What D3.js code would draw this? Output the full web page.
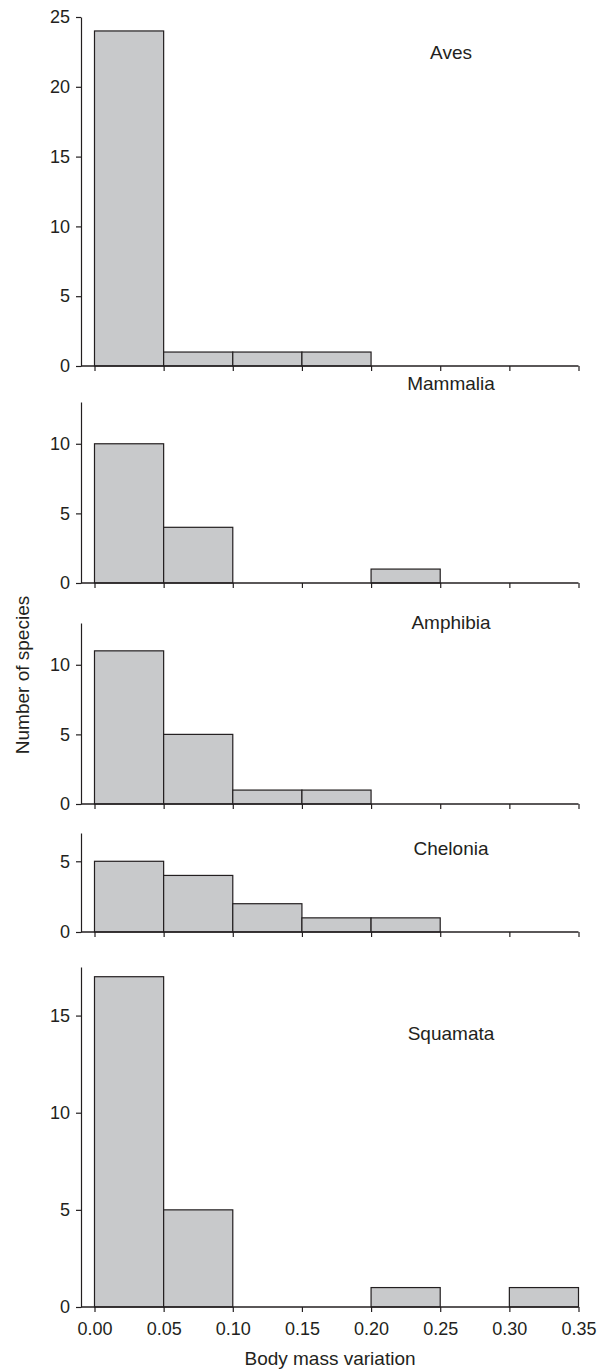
<!DOCTYPE html>
<html>
<head>
<meta charset="utf-8">
<script src="https://cdn.jsdelivr.net/npm/d3@7"></script>
<style>
  body { margin: 0; background: #fff; }
  text { font-family: "Liberation Sans", Arial, sans-serif; fill: #231f20; }
</style>
</head>
<body>
<div id="chart"></div>
<script>
// bins of body mass variation (lower edges), width 0.05
const binStarts = [0.00, 0.05, 0.10, 0.15, 0.20, 0.25, 0.30];
const binWidth = 0.05;
const xTicks = [0.00, 0.05, 0.10, 0.15, 0.20, 0.25, 0.30, 0.35];

const groups = ['Aves', 'Mammalia', 'Amphibia', 'Chelonia', 'Squamata'];
const aves = [24, 1, 1, 1, 0, 0, 0];
const mammalia = [10, 4, 0, 0, 1, 0, 0];
const amphibia = [11, 5, 1, 1, 0, 0, 0];
const chelonia = [5, 4, 2, 1, 1, 0, 0];
const squamata = [17, 5, 0, 0, 1, 0, 1];
const counts = [aves, mammalia, amphibia, chelonia, squamata];

const yMax = [25, 13, 13, 7, 17.5];
const yTicks = [
    [0, 5, 10, 15, 20, 25],
    [0, 5, 10],
    [0, 5, 10],
    [0, 5],
    [0, 5, 10, 15]
];

// panel layout: pixel top / bottom of each y range, label baseline
const panelTop = [17, 402, 623, 833, 967];
const panelBottom = [366, 583, 804, 932, 1307];
const labelY = [59, 390, 629, 855, 1040];

const width = 606, height = 1369;
const axisX = 81;

const svg = d3.select('#chart')
    .append('svg')
    .attr('width', width)
    .attr('height', height);

const x = d3.scaleLinear()
    .domain([0, 0.35])
    .range([94.5, 578.5]);

groups.forEach((name, i) => {
    const y = d3.scaleLinear()
        .domain([0, yMax[i]])
        .range([panelBottom[i], panelTop[i]]);

    const g = svg.append('g').attr('class', 'panel');

    const data = binStarts.map((b, j) => ({ x0: b, x1: b + binWidth, n: counts[i][j] }));

    g.selectAll('.bar')
        .data(data.filter(d => d.n > 0))
        .join('rect')
        .attr('class', 'bar')
        .attr('x', d => x(d.x0))
        .attr('width', d => x(d.x1) - x(d.x0))
        .attr('y', d => y(d.n))
        .attr('height', d => y(0) - y(d.n))
        .attr('fill', '#c8c9cb')
        .attr('stroke', '#231f20')
        .attr('stroke-width', 1.2);

    // y axis
    const yAxis = g.append('g')
        .attr('transform', 'translate(' + axisX + ',0)')
        .call(d3.axisLeft(y).tickValues(yTicks[i]).tickFormat(d3.format('d'))
            .tickSize(5).tickSizeOuter(0).tickPadding(6));
    yAxis.select('.domain').attr('stroke', '#231f20').attr('stroke-width', 1.2);
    yAxis.selectAll('.tick line').attr('stroke', '#231f20').attr('stroke-width', 1.2);
    yAxis.selectAll('text').style('font-size', '18px').attr('fill', '#231f20');

    // x axis, labels only on the bottom panel
    const xAxis = g.append('g')
        .attr('transform', 'translate(0,' + panelBottom[i] + ')')
        .call(d3.axisBottom(x).tickValues(xTicks).tickSize(5).tickSizeOuter(0).tickPadding(10)
            .tickFormat(i === groups.length - 1 ? d3.format('.2f') : ''));
    xAxis.select('.domain')
        .attr('d', 'M' + axisX + ',0H' + x(0.35))
        .attr('stroke', '#231f20').attr('stroke-width', 1.5);
    xAxis.selectAll('.tick line').attr('stroke', '#231f20').attr('stroke-width', 1.2);
    xAxis.selectAll('text').style('font-size', '18px').attr('fill', '#231f20');

    g.append('text')
        .attr('x', 451)
        .attr('y', labelY[i])
        .attr('text-anchor', 'middle')
        .style('font-size', '19px')
        .text(name);
});

svg.append('text')
    .attr('x', 330)
    .attr('y', 1365)
    .attr('text-anchor', 'middle')
    .style('font-size', '19px')
    .text('Body mass variation');

svg.append('text')
    .attr('transform', 'translate(29,675) rotate(-90)')
    .attr('text-anchor', 'middle')
    .style('font-size', '19px')
    .text('Number of species');
</script>
</body>
</html>
